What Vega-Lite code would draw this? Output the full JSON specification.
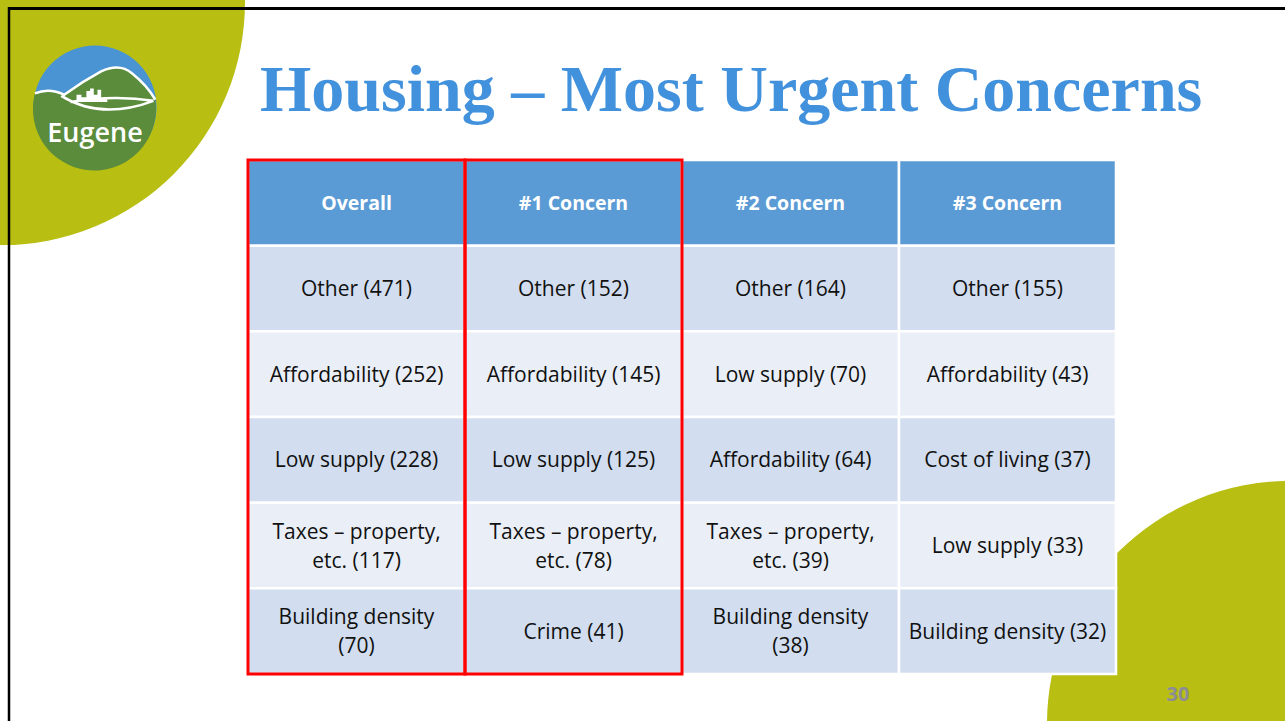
{
  "$schema": "https://vega.github.io/schema/vega-lite/v6.json",
  "width": 868,
  "height": 514,
  "autosize": {"type": "none"},
  "padding": {"left": 248, "top": 160, "right": 169, "bottom": 47},
  "background": "white",
  "config": {"view": {"stroke": null}, "text": {"lineBreak": "\n"}},
  "datasets": {
    "headers": [
      {"column": "Overall", "rank": 0},
      {"column": "#1 Concern", "rank": 0},
      {"column": "#2 Concern", "rank": 0},
      {"column": "#3 Concern", "rank": 0}
    ],
    "cells": [
      {"column": "Overall", "rank": 1, "label": "Other (471)", "count": 471},
      {"column": "Overall", "rank": 2, "label": "Affordability (252)", "count": 252},
      {"column": "Overall", "rank": 3, "label": "Low supply (228)", "count": 228},
      {"column": "Overall", "rank": 4, "label": "Taxes – property,\netc. (117)", "count": 117},
      {"column": "Overall", "rank": 5, "label": "Building density\n(70)", "count": 70},
      {"column": "#1 Concern", "rank": 1, "label": "Other (152)", "count": 152},
      {"column": "#1 Concern", "rank": 2, "label": "Affordability (145)", "count": 145},
      {"column": "#1 Concern", "rank": 3, "label": "Low supply (125)", "count": 125},
      {"column": "#1 Concern", "rank": 4, "label": "Taxes – property,\netc. (78)", "count": 78},
      {"column": "#1 Concern", "rank": 5, "label": "Crime (41)", "count": 41},
      {"column": "#2 Concern", "rank": 1, "label": "Other (164)", "count": 164},
      {"column": "#2 Concern", "rank": 2, "label": "Low supply (70)", "count": 70},
      {"column": "#2 Concern", "rank": 3, "label": "Affordability (64)", "count": 64},
      {"column": "#2 Concern", "rank": 4, "label": "Taxes – property,\netc. (39)", "count": 39},
      {"column": "#2 Concern", "rank": 5, "label": "Building density\n(38)", "count": 38},
      {"column": "#3 Concern", "rank": 1, "label": "Other (155)", "count": 155},
      {"column": "#3 Concern", "rank": 2, "label": "Affordability (43)", "count": 43},
      {"column": "#3 Concern", "rank": 3, "label": "Cost of living (37)", "count": 37},
      {"column": "#3 Concern", "rank": 4, "label": "Low supply (33)", "count": 33},
      {"column": "#3 Concern", "rank": 5, "label": "Building density (32)", "count": 32}
    ],
    "highlighted": [
      {"column": "Overall"},
      {"column": "#1 Concern"}
    ],
    "decor": [{"item": "slide"}]
  },
  "layer": [
    {
      "data": {"name": "decor"},
      "mark": {"type": "point", "shape": "circle", "filled": true, "fill": "#B8BF12", "opacity": 1, "strokeWidth": 0, "size": 236196, "x": -246, "y": -158}
    },
    {
      "data": {"name": "decor"},
      "mark": {"type": "point", "shape": "circle", "filled": true, "fill": "#B8BF12", "opacity": 1, "strokeWidth": 0, "size": 236196, "x": 1042, "y": 564}
    },
    {
      "data": {"name": "decor"},
      "mark": {"type": "rule", "color": "black", "strokeWidth": 3},
      "encoding": {"x": {"value": -240}, "x2": {"value": 1037}, "y": {"value": -151.5}, "y2": {"value": -151.5}}
    },
    {
      "data": {"name": "decor"},
      "mark": {"type": "rule", "color": "black", "strokeWidth": 2.5},
      "encoding": {"x": {"value": -239}, "x2": {"value": -239}, "y": {"value": -153}, "y2": {"value": 561}}
    },
    {
      "data": {"name": "decor"},
      "mark": {"type": "text", "text": "Housing – Most Urgent Concerns", "font": "Liberation Serif", "fontSize": 66, "fontWeight": "bold", "color": "#4191DC", "align": "left", "baseline": "alphabetic", "x": 12, "y": -49}
    },
    {
      "data": {"name": "decor"},
      "mark": {"type": "point", "shape": "circle", "filled": true, "fill": "#4A94D4", "opacity": 1, "strokeWidth": 0, "size": 15129, "x": -153, "y": -53}
    },
    {
      "data": {"name": "decor"},
      "mark": {"type": "point", "shape": "M -0.976 -0.22 Q -0.75 -0.32 -0.5 -0.2 Q -0.2 -0.42 0.1 -0.58 Q 0.4 -0.72 0.6 -0.55 Q 0.85 -0.35 0.98 -0.12 A 1 1 0 1 1 -0.976 -0.22 Z", "filled": true, "fill": "#5A8C3C", "opacity": 1, "strokeWidth": 0, "size": 15129, "x": -153, "y": -53}
    },
    {
      "data": {"name": "decor"},
      "mark": {"type": "point", "shape": "M -0.976 -0.22 Q -0.75 -0.32 -0.5 -0.2 Q -0.2 -0.42 0.1 -0.58 Q 0.4 -0.72 0.6 -0.55 Q 0.85 -0.35 0.98 -0.12 M -0.55 -0.18 Q 0.1 0.22 0.95 -0.1 M -0.4 -0.08 Q 0.3 -0.2 0.95 -0.1", "filled": false, "stroke": "white", "opacity": 1, "strokeWidth": 2.5, "size": 15129, "x": -153, "y": -53}
    },
    {
      "data": {"name": "decor"},
      "mark": {"type": "point", "shape": "M -0.3 -0.08 L -0.3 -0.2 L -0.22 -0.2 L -0.22 -0.16 L -0.14 -0.16 L -0.14 -0.26 L -0.08 -0.26 L -0.08 -0.3 L -0.02 -0.3 L -0.02 -0.2 L 0.04 -0.2 L 0.04 -0.28 L 0.1 -0.28 L 0.1 -0.14 L 0.2 -0.14 L 0.2 -0.08 Z", "filled": true, "fill": "white", "opacity": 1, "strokeWidth": 0, "size": 15129, "x": -153, "y": -53}
    },
    {
      "data": {"name": "decor"},
      "mark": {"type": "text", "text": "Eugene", "font": "Open Sans", "fontWeight": 600, "fontSize": 27, "color": "white", "align": "center", "baseline": "alphabetic", "x": -153, "y": -18}
    },
    {
      "data": {"name": "decor"},
      "mark": {"type": "text", "text": "30", "font": "Open Sans", "fontWeight": "bold", "fontSize": 20, "color": "#8C8C96", "align": "center", "baseline": "middle", "x": 930, "y": 535}
    },
    {
      "data": {"name": "headers"},
      "mark": {"type": "rect", "stroke": "white", "strokeWidth": 2.5},
      "encoding": {
        "x": {"field": "column", "type": "nominal", "axis": null, "scale": {"domain": ["Overall", "#1 Concern", "#2 Concern", "#3 Concern"], "paddingInner": 0, "paddingOuter": 0}},
        "y": {"field": "rank", "type": "ordinal", "axis": null, "scale": {"domain": [0, 1, 2, 3, 4, 5], "paddingInner": 0, "paddingOuter": 0}},
        "fill": {"field": "rank", "type": "ordinal", "legend": null, "scale": {"domain": [0, 1, 2, 3, 4, 5], "range": ["#5B9BD5", "#D2DEEF", "#EAEFF7", "#D2DEEF", "#EAEFF7", "#D2DEEF"]}}
      }
    },
    {
      "data": {"name": "cells"},
      "mark": {"type": "rect", "stroke": "white", "strokeWidth": 2.5},
      "encoding": {
        "x": {"field": "column", "type": "nominal", "axis": null},
        "y": {"field": "rank", "type": "ordinal", "axis": null},
        "fill": {"field": "rank", "type": "ordinal", "legend": null}
      }
    },
    {
      "data": {"name": "headers"},
      "mark": {"type": "text", "font": "Open Sans", "fontWeight": "bold", "fontSize": 19.5, "color": "white", "align": "center", "baseline": "middle", "dy": 1}
      ,
      "encoding": {
        "x": {"field": "column", "type": "nominal", "axis": null},
        "y": {"field": "rank", "type": "ordinal", "axis": null},
        "text": {"field": "column"}
      }
    },
    {
      "data": {"name": "cells"},
      "transform": [{"filter": "indexof(datum.label, '\\n') < 0"}],
      "mark": {"type": "text", "font": "Open Sans", "fontSize": 21, "color": "#111111", "align": "center", "baseline": "middle", "lineHeight": 29, "dy": 1.5},
      "encoding": {
        "x": {"field": "column", "type": "nominal", "axis": null},
        "y": {"field": "rank", "type": "ordinal", "axis": null},
        "text": {"field": "label"}
      }
    },
    {
      "data": {"name": "cells"},
      "transform": [{"filter": "indexof(datum.label, '\\n') >= 0"}],
      "mark": {"type": "text", "font": "Open Sans", "fontSize": 21, "color": "#111111", "align": "center", "baseline": "middle", "lineHeight": 29, "dy": -13},
      "encoding": {
        "x": {"field": "column", "type": "nominal", "axis": null},
        "y": {"field": "rank", "type": "ordinal", "axis": null},
        "text": {"field": "label"}
      }
    },
    {
      "data": {"name": "highlighted"},
      "mark": {"type": "rect", "fill": null, "fillOpacity": 0, "stroke": "#FF0000", "strokeWidth": 3},
      "encoding": {
        "x": {"field": "column", "type": "nominal", "axis": null}
      }
    }
  ]
}
